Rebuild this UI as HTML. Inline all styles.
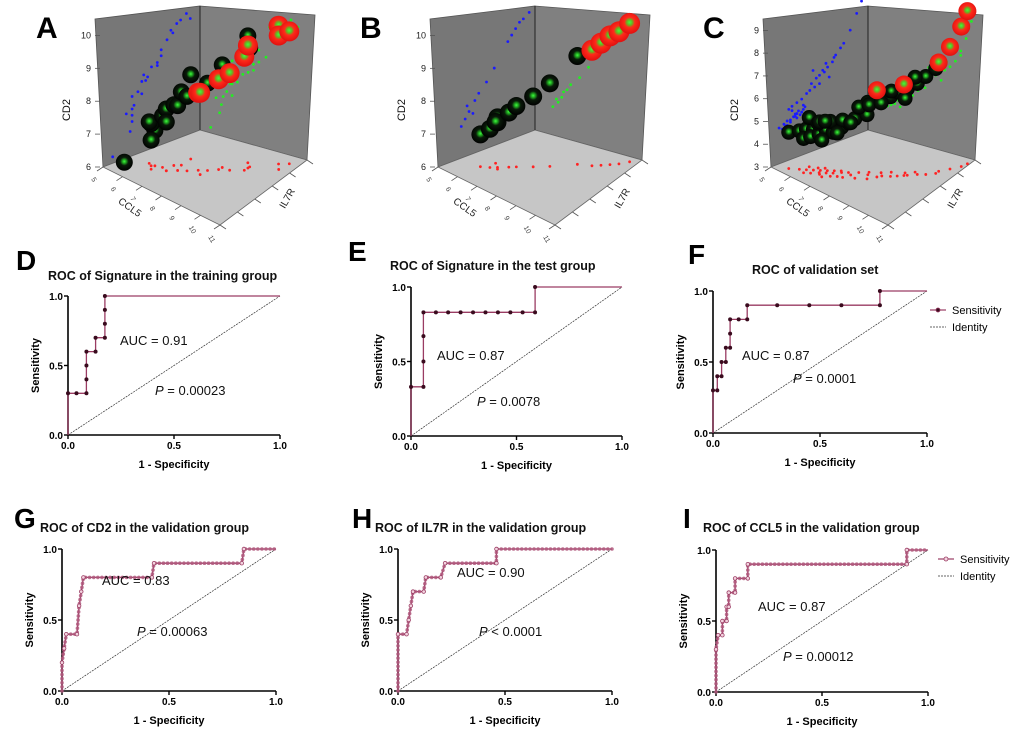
<!DOCTYPE html>
<html><head><meta charset="utf-8">
<style>
html,body{margin:0;padding:0;background:#fff;}
svg{display:block;font-family:"Liberation Sans",Arial,sans-serif;}
</style></head>
<body>
<svg id="fig" width="1020" height="733" viewBox="0 0 1020 733" xmlns="http://www.w3.org/2000/svg">
<defs>
<radialGradient id="gBlack" cx="50%" cy="45%" r="55%">
<stop offset="0" stop-color="#3cff3c"/><stop offset="0.25" stop-color="#1a8a1a"/><stop offset="0.45" stop-color="#0a1a0a"/><stop offset="1" stop-color="#000"/>
</radialGradient>
<radialGradient id="gRed" cx="50%" cy="45%" r="55%">
<stop offset="0" stop-color="#3cff3c"/><stop offset="0.25" stop-color="#6ab020"/><stop offset="0.45" stop-color="#ff2a1a"/><stop offset="1" stop-color="#e01010"/>
</radialGradient>
</defs>
</svg>
<script>
// ===== 3D panel data (CCL5, IL7R, CD2) =====
const aBlackC=[5.6,6.2,6.1,6.3,5.9,6.5,6.8,6.7,7.1,6.9,7.4,6.8,6.8,8.0,8.3,8.9,9.2];
const aBlackI=[6.5,7.5,7.4,7.2,7.5,7.6,7.5,8.0,7.8,8.2,8.0,7.5,8.8,8.5,9.0,9.8,9.6];
const aBlackD=[6.2,7.1,6.8,7.4,7.3,7.6,7.9,7.9,8.0,8.3,8.3,7.5,8.7,8.7,9.2,10.0,9.7];
const aRedC=[7.7,8.0,8.3,8.7,9.2,9.2,10.1,10.4,10.5];
const aRedI=[8.3,8.1,8.8,9.0,9.3,9.5,10.3,10.0,10.5];
const aRedD=[8.4,8.5,8.8,9.0,9.5,9.8,10.3,10.1,10.1];

const bBlackC=[6.0,6.3,6.5,6.6,6.2,6.8,7.0,7.5,8.0,8.8];
const bBlackI=[7.2,7.4,7.6,7.5,7.8,7.9,8.1,8.5,8.9,9.6];
const bBlackD=[7.0,7.2,7.4,7.6,7.3,7.7,7.9,8.2,8.6,9.4];
const bRedC=[9.4,9.7,10.0,10.3,10.6];
const bRedI=[9.8,10.0,10.2,10.4,10.7];
const bRedD=[9.6,9.8,10.0,10.1,10.3];

const cBlackC=[5.5,5.8,6.0,6.2,6.4,6.6,6.8,7.0,6.1,6.3,6.5,6.7,6.9,7.1,7.3,5.9,6.2,6.6,7.0,7.4,7.8,8.2,8.0,8.5,8.8,9.0,9.3,9.6,9.9,10.2,7.6,7.9,8.3,8.6,9.1,9.4,6.4,6.8,7.2,7.5];
const cBlackI=[5.5,5.8,6.0,6.2,6.4,6.6,6.8,7.0,5.7,5.9,6.2,6.4,6.6,6.9,7.1,6.3,6.5,6.1,6.3,6.6,6.9,7.2,7.5,7.8,8.0,8.2,8.5,8.8,9.0,9.3,7.4,7.7,8.0,8.3,8.6,8.9,6.7,6.0,6.5,7.0];
const cBlackD=[4.6,4.7,4.8,4.8,4.9,5.0,4.9,5.1,4.5,4.6,4.7,4.9,4.8,5.0,5.2,5.2,5.0,5.3,5.4,5.5,5.6,5.8,6.2,6.4,6.5,6.7,6.8,7.0,7.3,7.6,5.9,6.0,6.1,6.6,6.3,7.2,5.1,4.6,4.9,5.3];
const cRedC=[8.4,9.2,10.2,10.5,10.8,10.9];
const cRedI=[7.6,8.4,9.5,9.9,10.3,10.6];
const cRedD=[6.8,7.0,7.8,8.4,9.2,9.8];

// ===== ROC data =====
const dFpr=[0,0,0.04,0.087,0.087,0.087,0.087,0.13,0.13,0.174,0.174,0.174,0.174,1];
const dTpr=[0,0.3,0.3,0.3,0.4,0.5,0.6,0.6,0.7,0.7,0.8,0.9,1,1];
const eFpr=[0,0,0.059,0.059,0.059,0.059,0.118,0.176,0.235,0.294,0.353,0.412,0.471,0.529,0.588,0.588,1];
const eTpr=[0,0.33,0.33,0.5,0.67,0.83,0.83,0.83,0.83,0.83,0.83,0.83,0.83,0.83,0.83,1,1];
const fFpr=[0,0,0.02,0.02,0.04,0.04,0.06,0.06,0.08,0.08,0.08,0.12,0.16,0.16,0.3,0.45,0.6,0.78,0.78,1];
const fTpr=[0,0.3,0.3,0.4,0.4,0.5,0.5,0.6,0.6,0.7,0.8,0.8,0.8,0.9,0.9,0.9,0.9,0.9,1,1];
const gFpr=[0,0,0.01,0.02,0.07,0.08,0.09,0.1,0.42,0.43,0.84,0.85,1];
const gTpr=[0,0.2,0.3,0.4,0.4,0.6,0.7,0.8,0.8,0.9,0.9,1,1];
const hFpr=[0,0,0.04,0.05,0.06,0.07,0.12,0.13,0.2,0.22,0.46,0.46,1];
const hTpr=[0,0.4,0.4,0.5,0.6,0.7,0.7,0.8,0.8,0.9,0.9,1,1];
const iFpr=[0,0,0.01,0.03,0.03,0.05,0.05,0.06,0.06,0.09,0.09,0.15,0.15,0.9,0.9,1];
const iTpr=[0,0.3,0.4,0.4,0.5,0.5,0.6,0.6,0.7,0.7,0.8,0.8,0.9,0.9,1,1];
const axisTicks=[0,0.5,1];
const tickLabels=["0.0","0.5","1.0"];

const svg=document.getElementById('fig');
const NS='http://www.w3.org/2000/svg';
function mk(tag,attrs,parent){const e=document.createElementNS(NS,tag);for(const k in attrs)e.setAttribute(k,attrs[k]);(parent||svg).appendChild(e);return e;}
function txt(s,attrs,parent){const e=mk('text',attrs,parent);e.textContent=s;return e;}

// ===== 3D panel =====
function panel3d(o){
  const g=mk('g',{});
  
  
  const dx=o.dx;
  const L=[103+dx,167],Fr=[220+dx,225],R=[307+dx,160],B=[200+dx,130];
  const HL=148,HF=165,HR=145,HB=124;
  const cn=c=>(c-o.cMin)/(o.cMax-o.cMin), inn=i=>(i-o.iMin)/(o.iMax-o.iMin), dn=d=>(d-o.dMin)/(o.dMax-o.dMin);
  function proj(c,i,d){
    const a=cn(c),b=inn(i),h=dn(d);
    const w=[(1-a)*(1-b),a*(1-b),a*b,(1-a)*b];
    const x=w[0]*L[0]+w[1]*Fr[0]+w[2]*R[0]+w[3]*B[0];
    const y=w[0]*L[1]+w[1]*Fr[1]+w[2]*R[1]+w[3]*B[1];
    const H=w[0]*HL+w[1]*HF+w[2]*HR+w[3]*HB;
    return [x,y-h*H];
  }
  const pt=p=>p[0].toFixed(1)+','+p[1].toFixed(1);
  const lw=mk('polygon',{points:[L,B,[B[0],B[1]-HB],[L[0]-8,L[1]-HL]].map(pt).join(' '),fill:'#777',stroke:'#555','stroke-width':0.8},g);
  
  const rw=mk('polygon',{points:[B,R,[R[0]+8,R[1]-HR],[B[0],B[1]-HB]].map(pt).join(' '),fill:'#808080',stroke:'#555','stroke-width':0.8},g);
  
  const fl=mk('polygon',{points:[L,Fr,R,B].map(pt).join(' '),fill:'#c6c6c6',stroke:'#666','stroke-width':0.8},g);
  
  mk('line',{x1:B[0],y1:B[1],x2:B[0],y2:B[1]-HB,stroke:'#222','stroke-width':1},g);
  for(let k=0;k<=6;k++){const p1=[L[0]+(Fr[0]-L[0])*k/6,L[1]+(Fr[1]-L[1])*k/6];mk('line',{x1:p1[0],y1:p1[1],x2:p1[0]-6,y2:p1[1]+4,stroke:'#555','stroke-width':0.8},g);
    txt(String(o.cMin+k*(o.cMax-o.cMin)/6),{x:p1[0]-12,y:p1[1]+12,'font-size':7,fill:'#444',transform:`rotate(60 ${p1[0]-12} ${p1[1]+12})`},g);}
  for(let k=0;k<=5;k++){const p1=[Fr[0]+(R[0]-Fr[0])*k/5,Fr[1]+(R[1]-Fr[1])*k/5];mk('line',{x1:p1[0],y1:p1[1],x2:p1[0]+6,y2:p1[1]+4,stroke:'#555','stroke-width':0.8},g);}
  o.dTicks.forEach(t=>{const p1=proj(o.cMin,o.iMin,t);mk('line',{x1:p1[0]-8,y1:p1[1],x2:p1[0]-3,y2:p1[1],stroke:'#555','stroke-width':0.8},g);
    txt(String(t),{x:p1[0]-12,y:p1[1]+3,'font-size':9,'text-anchor':'end',fill:'#222'},g);});
  const yl=txt('CD2',{x:o.dx+70,y:110,'font-size':11,'text-anchor':'middle',transform:`rotate(-90 ${o.dx+70} 110)`,fill:'#111'},g);
  
  const xl=txt('CCL5',{x:o.dx+128,y:210,'font-size':10,'text-anchor':'middle',transform:`rotate(35 ${o.dx+128} 210)`,fill:'#222'},g);
  
  const il=txt('IL7R',{x:o.dx+290,y:200,'font-size':10,'text-anchor':'middle',transform:`rotate(-60 ${o.dx+290} 200)`,fill:'#222'},g);
  
  const allC=o.bc.concat(o.rc),allI=o.bi.concat(o.ri),allD=o.bd.concat(o.rd);
  for(let k=0;k<allC.length;k++){
    const pb=proj(o.cMin,allI[k],allD[k]);
    const d1=mk('circle',{cx:pb[0],cy:pb[1],r:1.4,fill:'#1a1aff'},g);
    
    const pg=proj(allC[k],o.iMax,allD[k]);
    const d2=mk('circle',{cx:pg[0],cy:pg[1],r:1.4,fill:'#22ee22'},g);
    
    const pr=proj(allC[k],allI[k],o.dMin);
    const d3=mk('circle',{cx:pr[0],cy:pr[1],r:1.4,fill:'#ff2222'},g);
    
  }
  for(let k=0;k<o.bc.length;k++){const p=proj(o.bc[k],o.bi[k],o.bd[k]);
    const b=mk('circle',{cx:p[0],cy:p[1],r:o.rb,fill:'url(#gBlack)'},g);
    }
  for(let k=0;k<o.rc.length;k++){const p=proj(o.rc[k],o.ri[k],o.rd[k]);
    const b=mk('circle',{cx:p[0],cy:p[1],r:o.rb+1.5,fill:'url(#gRed)'},g);
    }
  const lt=txt(o.letter,{x:o.lx,y:38,'font-size':30,'font-weight':'bold',fill:'#000'},g);
  
}
panel3d({name:'panel-a-3d-scatter',dx:0,letter:'A',lx:36,cMin:5,cMax:11,iMin:6,iMax:11,dMin:6,dMax:10.5,dTicks:[6,7,8,9,10],bc:aBlackC,bi:aBlackI,bd:aBlackD,rc:aRedC,ri:aRedI,rd:aRedD,rb:8.5});
panel3d({name:'panel-b-3d-scatter',dx:335,letter:'B',lx:360,cMin:5,cMax:11,iMin:6,iMax:11,dMin:6,dMax:10.5,dTicks:[6,7,8,9,10],bc:bBlackC,bi:bBlackI,bd:bBlackD,rc:bRedC,ri:bRedI,rd:bRedD,rb:9});
panel3d({name:'panel-c-3d-scatter',dx:668,letter:'C',lx:703,cMin:5,cMax:11,iMin:5,iMax:11,dMin:3,dMax:9.5,dTicks:[3,4,5,6,7,8,9],bc:cBlackC,bi:cBlackI,bd:cBlackD,rc:cRedC,ri:cRedI,rd:cRedD,rb:7.5});

// ===== ROC panels =====
function roc(o){
  const g=mk('g',{});
  
  
  const sx=v=>o.x0+v*(o.x1-o.x0), sy=v=>o.y0+v*(o.y1-o.y0);
  const lt=txt(o.letter,{x:o.lx,y:o.ly,'font-size':28,'font-weight':'bold',fill:'#000'},g);
  
  const tt=txt(o.title,{x:o.tx,y:o.ty,'font-size':12.5,'font-weight':'bold',fill:'#111'},g);
  
  const ax=mk('line',{x1:o.x0,y1:o.y0,x2:o.x1,y2:o.y0,stroke:'#000','stroke-width':1.6},g);
  
  const ay=mk('line',{x1:o.x0,y1:o.y0,x2:o.x0,y2:o.y1,stroke:'#000','stroke-width':1.6},g);
  
  axisTicks.forEach((t,k)=>{
    mk('line',{x1:sx(t),y1:o.y0,x2:sx(t),y2:o.y0+4,stroke:'#000','stroke-width':1.4},g);
    const xt=txt(tickLabels[k],{x:sx(t),y:o.y0+14,'font-size':10,'font-weight':'bold','text-anchor':'middle'},g);
    
    mk('line',{x1:o.x0-4,y1:sy(t),x2:o.x0,y2:sy(t),stroke:'#000','stroke-width':1.4},g);
    const yt=txt(tickLabels[k],{x:o.x0-5,y:sy(t)+4,'font-size':10,'font-weight':'bold','text-anchor':'end'},g);
    
  });
  const xl=txt('1 - Specificity',{x:(o.x0+o.x1)/2,y:o.y0+33,'font-size':11,'font-weight':'bold','text-anchor':'middle'},g);
  
  const ycx=o.x0-29, ycy=(o.y0+o.y1)/2;
  const yl=txt('Sensitivity',{x:ycx,y:ycy,'font-size':11,'font-weight':'bold','text-anchor':'middle',transform:`rotate(-90 ${ycx} ${ycy})`},g);
  
  const id=mk('line',{x1:sx(0),y1:sy(0),x2:sx(1),y2:sy(1),stroke:'#333','stroke-width':0.7,'stroke-dasharray':'2,1'},g);
  
  const d=o.fpr.map((f,k)=>(k?'L':'M')+sx(f).toFixed(1)+','+sy(o.tpr[k]).toFixed(1)).join(' ');
  const cv=mk('path',{d:d,fill:'none',stroke:'#9a3c63','stroke-width':1.3},g);
  
  if(o.dense){
    const ov=mk('path',{d:d,fill:'none',stroke:'#b0587c','stroke-width':3.6,'stroke-dasharray':'0.1 4','stroke-linecap':'round',opacity:0.85},g);
    
  }
  o.fpr.forEach((f,k)=>{
    if(k===0||k===o.fpr.length-1)return;
    const m=mk('circle',o.dense?{cx:sx(f),cy:sy(o.tpr[k]),r:1.8,fill:'#f3d3df',stroke:'#9a3c63','stroke-width':0.8}:{cx:sx(f),cy:sy(o.tpr[k]),r:2,fill:'#3a0b1e'},g);
    
  });
  const au=txt(o.auc,{x:o.ax,y:o.ay,'font-size':13,fill:'#111'},g);
  
  const pp=txt('',{x:o.px,y:o.py,'font-size':13,fill:'#111'},g);
  
  const ts=mk('tspan',{'font-style':'italic'},pp);ts.textContent='P';
  const ts2=mk('tspan',{},pp);ts2.textContent=o.p;
  if(o.legend){
    const lg=mk('g',{},g);
    
    mk('line',{x1:o.legX,y1:o.legY,x2:o.legX+16,y2:o.legY,stroke:'#9a3c63','stroke-width':1.2},lg);
    mk('circle',{cx:o.legX+8,cy:o.legY,r:2,fill:o.dense?'#f3d3df':'#3a0b1e',stroke:'#9a3c63','stroke-width':0.8},lg);
    const l1=txt('Sensitivity',{x:o.legX+22,y:o.legY+4,'font-size':11},lg);
    
    mk('line',{x1:o.legX,y1:o.legY+17,x2:o.legX+16,y2:o.legY+17,stroke:'#333','stroke-width':0.8,'stroke-dasharray':'2,1'},lg);
    const l2=txt('Identity',{x:o.legX+22,y:o.legY+21,'font-size':11},lg);
    
  }
}
roc({name:'panel-d-roc',letter:'D',lx:16,ly:270,title:'ROC of Signature in the training group',tx:48,ty:280,x0:68,x1:280,y0:435,y1:296,fpr:dFpr,tpr:dTpr,auc:'AUC = 0.91',ax:120,ay:345,p:' = 0.00023',px:155,py:395});
roc({name:'panel-e-roc',letter:'E',lx:348,ly:261,title:'ROC of Signature in the test group',tx:390,ty:270,x0:411,x1:622,y0:436,y1:287,fpr:eFpr,tpr:eTpr,auc:'AUC = 0.87',ax:437,ay:360,p:' = 0.0078',px:477,py:406});
roc({name:'panel-f-roc',letter:'F',lx:688,ly:264,title:'ROC of validation set',tx:752,ty:274,x0:713,x1:927,y0:433,y1:291,fpr:fFpr,tpr:fTpr,auc:'AUC = 0.87',ax:742,ay:360,p:' = 0.0001',px:793,py:383,legend:true,legX:930,legY:310});
roc({name:'panel-g-roc',letter:'G',lx:14,ly:528,title:'ROC of CD2 in the validation group',tx:40,ty:532,x0:62,x1:276,y0:691,y1:549,fpr:gFpr,tpr:gTpr,dense:true,auc:'AUC = 0.83',ax:102,ay:585,p:' = 0.00063',px:137,py:636});
roc({name:'panel-h-roc',letter:'H',lx:352,ly:528,title:'ROC of IL7R in the validation group',tx:375,ty:532,x0:398,x1:612,y0:691,y1:549,fpr:hFpr,tpr:hTpr,dense:true,auc:'AUC = 0.90',ax:457,ay:577,p:' < 0.0001',px:479,py:636});
roc({name:'panel-i-roc',letter:'I',lx:683,ly:528,title:'ROC of CCL5 in the validation group',tx:703,ty:532,x0:716,x1:928,y0:692,y1:550,fpr:iFpr,tpr:iTpr,dense:true,auc:'AUC = 0.87',ax:758,ay:611,p:' = 0.00012',px:783,py:661,legend:true,legX:938,legY:559});
</script>
</body></html>
